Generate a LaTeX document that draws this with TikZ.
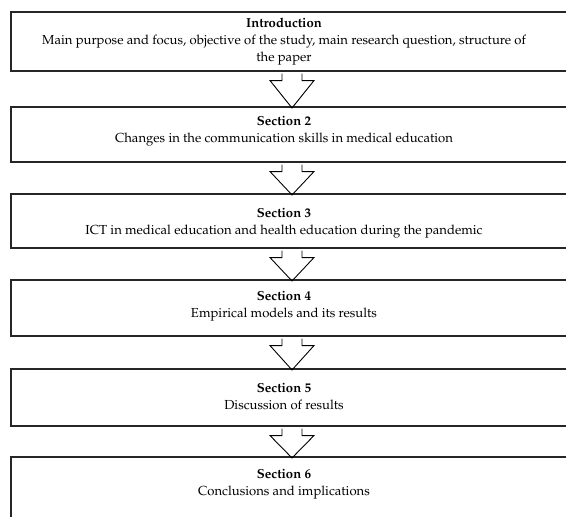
\documentclass[tikz,border=0pt]{standalone}
\usepackage[T1]{fontenc}
\renewcommand{\rmdefault}{ppl}
\usetikzlibrary{calc}
\tikzset{
  secbox/.style={draw=black!85, line width=1.1pt, rectangle, minimum width=565pt, inner sep=0pt},
  sectext/.style={align=center, inner sep=0pt, font=\fontsize{13.1}{17}\selectfont},
  flowarrow/.style={draw=black, line width=0.9pt, line join=miter}
}
\newcommand{\flowdown}[2]{%
  \coordinate (fa) at ($(#1.south)+(-1.5pt,0pt)$);
  \draw[flowarrow] ($(fa)+(-10pt,-2pt)$) -- ($(fa)+(-10pt,-9pt)$) -- ($(fa)+(-22pt,-9pt)$)
    -- ($(#2.north)+(-1.5pt,-1.5pt)$) -- ($(fa)+(22pt,-9pt)$) -- ($(fa)+(10pt,-9pt)$) -- ($(fa)+(10pt,-2pt)$);
}
\begin{document}
\begin{tikzpicture}[x=1pt,y=1pt]
\clip (0,0) rectangle (566,-517);
\fill[white] (0,0) rectangle (566,-517);
\node[secbox, minimum height=59pt] (b1) at (293.5,-41.5) {};
\node[secbox, minimum height=55pt] (b2) at (293.5,-134.5) {};
\node[secbox, minimum height=54pt] (b3) at (293.5,-221) {};
\node[secbox, minimum height=56pt] (b4) at (293.5,-308) {};
\node[secbox, minimum height=57pt] (b5) at (293.5,-397.5) {};
\node[secbox, minimum height=70pt] (b6) at (293.5,-492) {};
\node[sectext] (t1) at (284,-41.5) {\textbf{Introduction}\\Main purpose and focus, objective of the study, main research question, structure of\\the paper};
\node[sectext] (t2) at (284,-131) {\textbf{Section 2}\\Changes in the communication skills in medical education};
\node[sectext] (t3) at (284,-223) {\textbf{Section 3}\\ICT in medical education and health education during the pandemic};
\node[sectext] (t4) at (284,-306) {\textbf{Section 4}\\Empirical models and its results};
\node[sectext] (t5) at (284,-397) {\textbf{Section 5}\\Discussion of results};
\node[sectext] (t6) at (284,-484.5) {\textbf{Section 6}\\Conclusions and implications};
\flowdown{b1}{b2}
\flowdown{b2}{b3}
\flowdown{b3}{b4}
\flowdown{b4}{b5}
\flowdown{b5}{b6}
\end{tikzpicture}
\end{document}
